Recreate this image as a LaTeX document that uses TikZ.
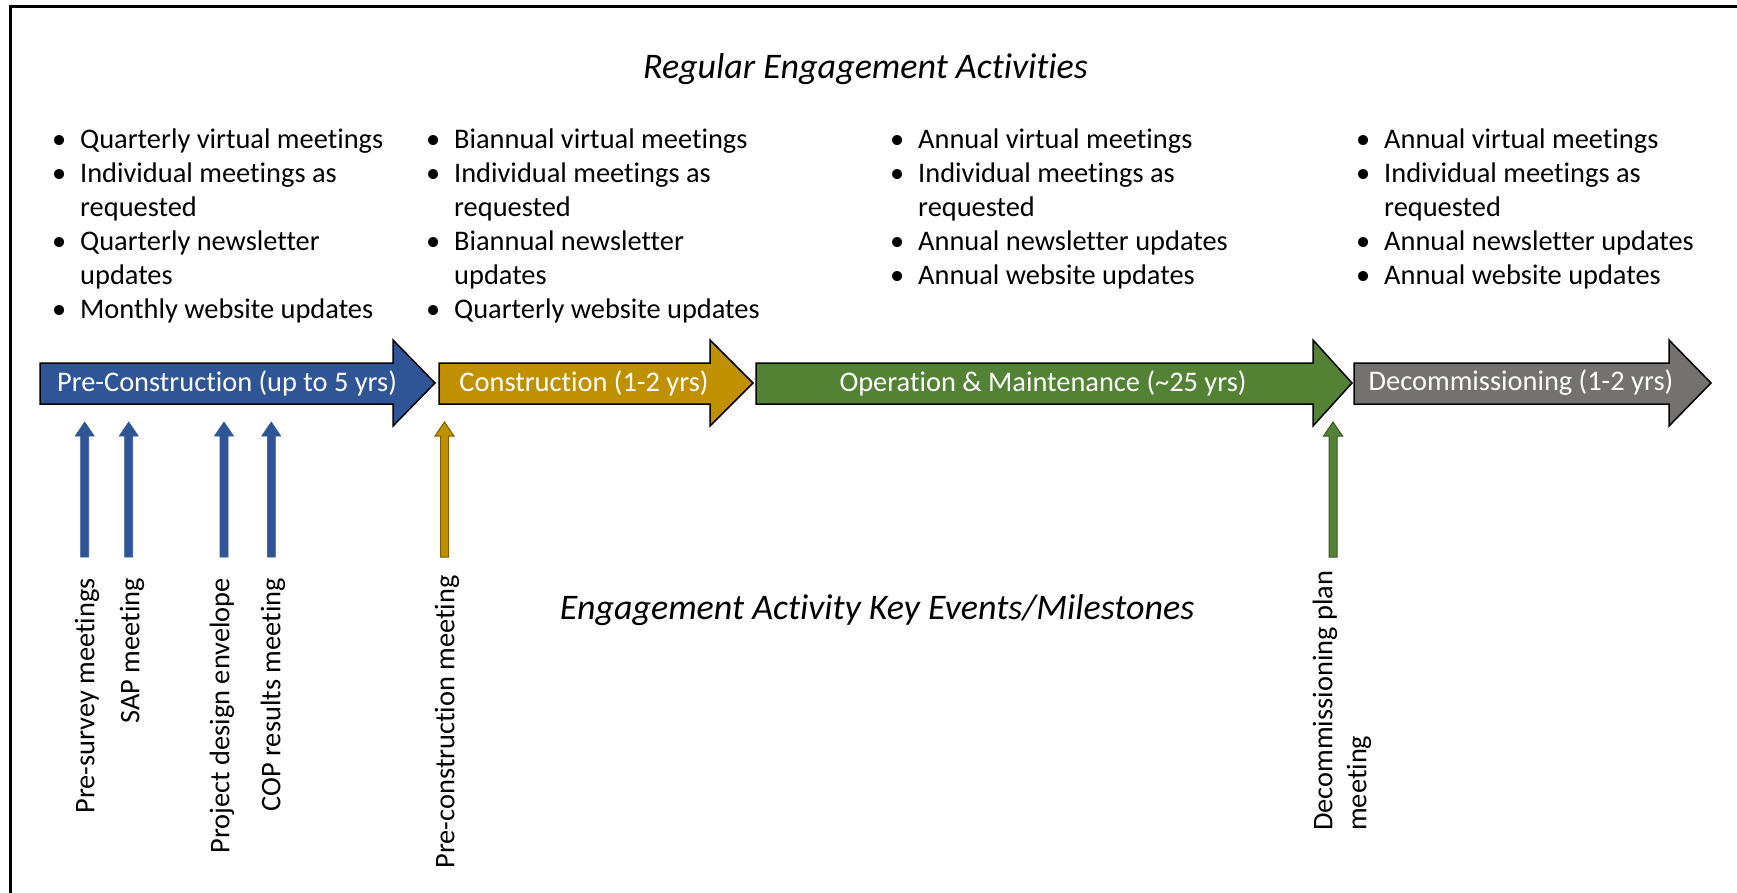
\documentclass[tikz,border=0pt]{standalone}
\usepackage{fontspec}
\setmainfont[Ligatures=NoCommon]{Carlito}
\usetikzlibrary{arrows.meta,calc}
\definecolor{pblue}{HTML}{2F5597}
\definecolor{pgold}{HTML}{BF9000}
\definecolor{pgolddark}{HTML}{7F6000}
\definecolor{pgreen}{HTML}{548235}
\definecolor{pgreendark}{HTML}{385723}
\definecolor{pgray}{HTML}{767171}
\newcommand{\bodyfont}{\fontsize{28.4}{34}\selectfont}
\newcommand{\phasearrow}[4]{%
  \filldraw[fill=#4, draw=black, line width=1.5pt, line join=miter]
    (#1,363) -- (#2,363) -- (#2,340) -- (#3,383) -- (#2,426) -- (#2,404) -- (#1,404) -- cycle;}
% milestone arrow from (#2) up to (#3), style #1
\newcommand{\msarrow}[3]{%
  \filldraw[#1] ($(#2)+(-4,0)$) -- ($(#3)+(-4,14)$) -- ($(#3)+(-9.5,14)$) -- (#3)
    -- ($(#3)+(9.5,14)$) -- ($(#3)+(4,14)$) -- ($(#2)+(4,0)$) -- cycle;}
\begin{document}
\begin{tikzpicture}[x=1pt,y=-1pt,
  txt/.style={font=\bodyfont, inner sep=0pt, text=black},
  headline/.style={font=\fontsize{36}{42}\selectfont\itshape, inner sep=0pt, anchor=base},
  phaselbl/.style={font=\bodyfont, inner sep=0pt, text=white, anchor=center},
  bulletlist/.style={txt, anchor=base west},
  vlabel/.style={txt, rotate=90, anchor=east},
  bluearrow/.style={fill=pblue, draw=pblue, line width=0.6pt},
  goldarrow/.style={fill=pgold, draw=pgolddark, line width=1pt},
  greenarrow/.style={fill=pgreen, draw=pgreendark, line width=1pt}]
\useasboundingbox (0,0) rectangle (1737,893);
\fill[white] (0,0) rectangle (1737,893);
% frame
\draw[line width=3pt] (10,895) -- (10,7) -- (1740,7);

% headings
\node[headline] (top) at (865.5,79) {Regular Engagement Activities};
\node[headline] (bottom) at (877,619) {Engagement Activity Key Events/Milestones};

% bullet lists
\node[bulletlist] (list1) at (54,149) {\begin{tabular}[t]{@{}p{26pt}@{}l@{}}
\hspace{-2pt}\textbullet & Quarterly virtual meetings\\
\hspace{-2pt}\textbullet & Individual meetings as\\
 & requested\\
\hspace{-2pt}\textbullet & Quarterly newsletter\\
 & updates\\
\hspace{-2pt}\textbullet & Monthly website updates
\end{tabular}};
\node[bulletlist] (list2) at (428,149) {\begin{tabular}[t]{@{}p{26pt}@{}l@{}}
\hspace{-2pt}\textbullet & Biannual virtual meetings\\
\hspace{-2pt}\textbullet & Individual meetings as\\
 & requested\\
\hspace{-2pt}\textbullet & Biannual newsletter\\
 & updates\\
\hspace{-2pt}\textbullet & Quarterly website updates
\end{tabular}};
\node[bulletlist] (list3) at (892,149) {\begin{tabular}[t]{@{}p{26pt}@{}l@{}}
\hspace{-2pt}\textbullet & Annual virtual meetings\\
\hspace{-2pt}\textbullet & Individual meetings as\\
 & requested\\
\hspace{-2pt}\textbullet & Annual newsletter updates\\
\hspace{-2pt}\textbullet & Annual website updates
\end{tabular}};
\node[bulletlist] (list4) at (1358,149) {\begin{tabular}[t]{@{}p{26pt}@{}l@{}}
\hspace{-2pt}\textbullet & Annual virtual meetings\\
\hspace{-2pt}\textbullet & Individual meetings as\\
 & requested\\
\hspace{-2pt}\textbullet & Annual newsletter updates\\
\hspace{-2pt}\textbullet & Annual website updates
\end{tabular}};

% phase arrows
\phasearrow{40}{393}{435}{pblue}
\phasearrow{439}{710}{753}{pgold}
\phasearrow{756}{1313}{1352}{pgreen}
\phasearrow{1354}{1669}{1711}{pgray}
\node[phaselbl] (pre) at (227,383) {Pre-Construction (up to 5 yrs)};
\node[phaselbl] (con) at (584,383) {Construction (1-2 yrs)};
\node[phaselbl] (om) at (1043,383) {Operation \& Maintenance (\textasciitilde25 yrs)};
\node[phaselbl] (dec) at (1521,383) {Decommissioning (1-2 yrs)};

% milestone labels
\node[vlabel] (m1) at (87,578) {Pre-survey meetings};
\node[vlabel] (m2) at (132,578) {SAP meeting};
\node[vlabel] (m3) at (222,578) {Project design envelope};
\node[vlabel] (m4) at (273,578) {COP results meeting};
\node[vlabel] (m5) at (447,575) {Pre-construction meeting};
\node[txt, rotate=90, anchor=west, align=left] (m6) at (1342,831) {Decommissioning plan\\meeting};

% milestone arrows
\coordinate (s1) at (84.7,557);  \coordinate (t1) at (84.7,422);
\coordinate (s2) at (128.7,557); \coordinate (t2) at (128.7,422);
\coordinate (s3) at (224,557);   \coordinate (t3) at (224,422);
\coordinate (s4) at (271.3,557); \coordinate (t4) at (271.3,422);
\coordinate (s5) at (444.5,557); \coordinate (t5) at (444.5,422);
\coordinate (s6) at (1333,557);  \coordinate (t6) at (1333,422);
\msarrow{bluearrow}{s1}{t1}
\msarrow{bluearrow}{s2}{t2}
\msarrow{bluearrow}{s3}{t3}
\msarrow{bluearrow}{s4}{t4}
\msarrow{goldarrow}{s5}{t5}
\msarrow{greenarrow}{s6}{t6}
\end{tikzpicture}
\end{document}
